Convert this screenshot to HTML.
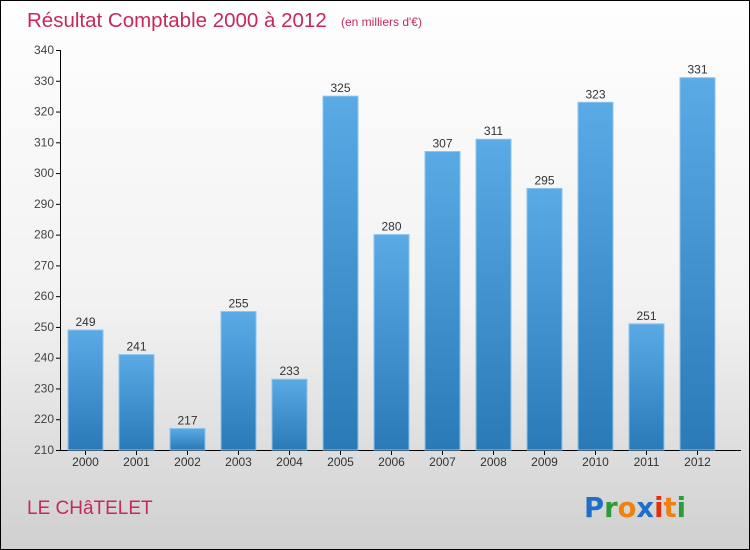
<!DOCTYPE html>
<html><head><meta charset="utf-8"><style>
body{margin:0}
#c{width:748px;height:548px;border:1px solid #000;background:linear-gradient(#fefefe 0%,#f2f2f2 55%,#d0d0d0 100%);position:relative;overflow:hidden;font-family:"Liberation Sans",sans-serif}
</style></head><body>
<div id="c">
<svg width="748" height="548" id="s">
<defs><linearGradient id="g" x1="0" y1="0" x2="0" y2="1"><stop offset="0" stop-color="#5aaae6"/><stop offset="1" stop-color="#2a7ab8"/></linearGradient></defs>
<text x="26" y="26" font-size="20.5" fill="#c8285a">Résultat Comptable 2000 à 2012</text>
<text x="340" y="25" font-size="12" fill="#c8285a">(en milliers d'€)</text>
<text x="26" y="513" font-size="19" fill="#c8285a">LE CHâTELET</text>
<g font-size="28" font-family="DejaVu Sans,sans-serif" font-weight="bold">
<text x="583" y="516" textLength="102" lengthAdjust="spacingAndGlyphs"><tspan fill="#1f6fc8">P</tspan><tspan fill="#2a9a3a">r</tspan><tspan fill="#f08010">o</tspan><tspan fill="#1f6fc8">x</tspan><tspan fill="#e03010">i</tspan><tspan fill="#f08010">t</tspan><tspan fill="#2a9a3a">i</tspan></text></g>
<g id="ax"></g><g id="bars"></g>
</svg></div>
<script>
const years=["2000","2001","2002","2003","2004","2005","2006","2007","2008","2009","2010","2011","2012"];
const values=[249,241,217,255,233,325,280,307,311,295,323,251,331];
const ticks=[210,220,230,240,250,260,270,280,290,300,310,320,330,340];
const NS="http://www.w3.org/2000/svg";
const y0=449,y1=49,vmin=210,vmax=340;
const y=v=>y0-(v-vmin)/(vmax-vmin)*(y0-y1);
const x=i=>84.5+i*51;
function mk(t,a,p){const e=document.createElementNS(NS,t);for(const k in a)e.setAttribute(k,a[k]);p.appendChild(e);return e;}
const ax=document.getElementById('ax'),bg=document.getElementById('bars');
const yl=mk('line',{x1:59.5,x2:59.5,y1:y1,y2:y0,stroke:'#000'},ax);


const xl=mk('line',{x1:59.5,x2:740,y1:y0+0.5,y2:y0+0.5,stroke:'#000'},ax);


ticks.forEach(t=>{
 mk('line',{x1:55,x2:60,y1:y(t)+0.5,y2:y(t)+0.5,stroke:'#000'},ax);
 const tx=mk('text',{x:53,y:y(t)+4,'font-size':12,fill:'#444','text-anchor':'end'},ax);tx.textContent=t;
 
 
});
years.forEach((yr,i)=>{
 const v=values[i];
 const r=mk('rect',{x:x(i)-17.5,y:y(v),width:35,height:y0-y(v),fill:'url(#g)',stroke:'#8cc4ee','stroke-width':1},bg);
 
 
 const l=mk('text',{x:x(i),y:y(v)-4,'font-size':12,fill:'#333','text-anchor':'middle'},bg);l.textContent=v;
 
 
 mk('line',{x1:x(i),x2:x(i),y1:y0,y2:y0+5,stroke:'#000'},ax);
 const xt=mk('text',{x:x(i),y:y0+16,'font-size':12,fill:'#333','text-anchor':'middle'},ax);xt.textContent=yr;
 
 
});
</script>
</body></html>
